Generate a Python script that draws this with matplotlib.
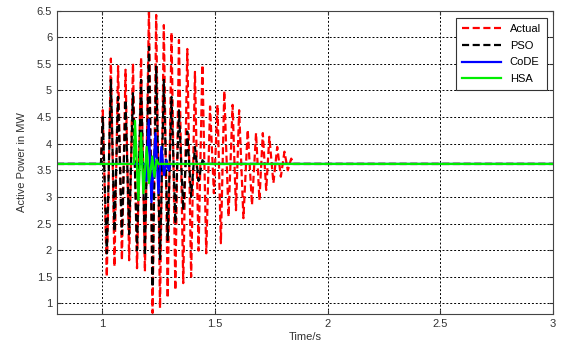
import matplotlib
matplotlib.use('Agg')
import matplotlib.pyplot as plt

plt.rcParams['font.family'] = ['Liberation Sans', 'DejaVu Sans']

# steady value before and after the disturbance
p_steady = 3.62

# measured power: times and values of each swing (peak, trough, peak, ...)
t_actual = [0.8, 0.995,
            1.003, 1.021, 1.039, 1.055, 1.071, 1.088, 1.104, 1.120, 1.137, 1.155,
            1.173, 1.190, 1.208, 1.224, 1.240, 1.257, 1.274, 1.291, 1.308, 1.325,
            1.341, 1.360, 1.378, 1.395, 1.412, 1.428, 1.445, 1.462, 1.479, 1.496,
            1.512, 1.527, 1.542, 1.561, 1.579, 1.594, 1.608, 1.627, 1.646, 1.665,
            1.683, 1.698, 1.713, 1.728, 1.742, 1.760, 1.777, 1.793, 1.809, 1.824,
            1.839, 1.85, 3.0]
p_actual = [3.62, 3.62,
            4.63, 1.50, 5.60, 1.69, 5.46, 1.81, 5.39, 1.81, 5.51, 1.66,
            5.62, 1.60, 6.55, 0.82, 6.42, 0.91, 6.23, 1.10, 6.09, 1.25,
            5.95, 1.38, 5.78, 1.50, 5.35, 1.99, 5.48, 1.94, 4.70, 3.07,
            4.73, 2.13, 4.99, 2.63, 4.73, 2.75, 4.63, 2.60, 4.26, 2.85,
            4.20, 2.94, 4.20, 3.13, 4.13, 3.26, 3.94, 3.38, 3.85, 3.50,
            3.72, 3.62, 3.62]

# PSO estimate
t_pso = [0.8, 0.995,
         1.003, 1.021, 1.039, 1.055, 1.071, 1.088, 1.104, 1.120, 1.137, 1.155,
         1.173, 1.190, 1.208, 1.224, 1.240, 1.257, 1.274, 1.291, 1.308, 1.325,
         1.341, 1.360, 1.378, 1.395, 1.412, 1.428, 1.445, 1.46, 3.0]
p_pso = [3.62, 3.62,
         4.50, 1.94, 5.20, 2.35, 4.88, 2.30, 4.82, 2.30, 4.95, 2.00,
         5.20, 1.90, 5.82, 1.31, 5.45, 1.81, 5.20, 2.19, 4.88, 2.50,
         4.63, 2.75, 4.23, 3.00, 3.94, 3.30, 3.69, 3.62, 3.62]

# CoDE estimate
t_code = [0.8, 1.191, 1.196, 1.207, 1.219, 1.237, 1.250, 1.263, 1.275, 1.286,
          1.295, 1.304, 3.0]
p_code = [3.62, 3.62, 3.30, 4.45, 2.90, 4.20, 3.07, 3.94, 3.41, 3.69,
          3.50, 3.62, 3.62]

# HSA estimate
t_hsa = [0.8, 1.141, 1.146, 1.161, 1.173, 1.183, 1.198, 1.208, 1.223, 1.232,
         1.242, 1.250, 3.0]
p_hsa = [3.62, 3.62, 4.43, 2.94, 4.20, 3.07, 3.94, 3.26, 3.76, 3.38,
         3.70, 3.62, 3.62]

x_ticks = [1, 1.5, 2, 2.5, 3]
y_ticks = [1, 1.5, 2, 2.5, 3, 3.5, 4, 4.5, 5, 5.5, 6, 6.5]

fig = plt.figure(figsize=(5.61, 3.56), dpi=100)
ax = fig.add_axes([0.1016, 0.118, 0.884, 0.852])

ax.plot(t_actual, p_actual, color='#ff0000', lw=1.6, dashes=(3.2, 1.6), label='Actual')
ax.plot(t_pso, p_pso, color='black', lw=1.6, dashes=(3.2, 1.6), label='PSO')
ax.plot(t_code, p_code, color='#0000ff', lw=1.6, label='CoDE')
ax.plot(t_hsa, p_hsa, color='#00ee00', lw=1.6, label='HSA')

ax.set_xlim(0.8, 3)
ax.set_ylim(0.8, 6.5)
ax.set_xticks(x_ticks)
ax.set_xticklabels(['1', '1.5', '2', '2.5', '3'])
ax.set_yticks(y_ticks)
ax.set_yticklabels(['1', '1.5', '2', '2.5', '3', '3.5', '4', '4.5', '5', '5.5', '6', '6.5'])
ax.tick_params(direction='in', length=3, labelsize=8, colors='#333333', top=True, right=True)
ax.grid(True, color='black', linestyle=(0, (2, 2)), linewidth=0.7)
for s in ax.spines.values():
    s.set_color('#444444')
    s.set_linewidth(0.8)

ax.set_xlabel('Time/s', fontsize=8, color='#333333', labelpad=2)
ax.set_ylabel('Active Power in MW', fontsize=8, color='#333333', labelpad=7)

leg = ax.legend(loc='upper right', fontsize=8, fancybox=False, framealpha=1,
                edgecolor='#333333', handlelength=3.5, borderpad=0.55,
                labelspacing=0.6, borderaxespad=0, bbox_to_anchor=(0.988, 0.976))
leg.get_frame().set_linewidth(0.8)

fig.savefig('out.png', dpi=100)
